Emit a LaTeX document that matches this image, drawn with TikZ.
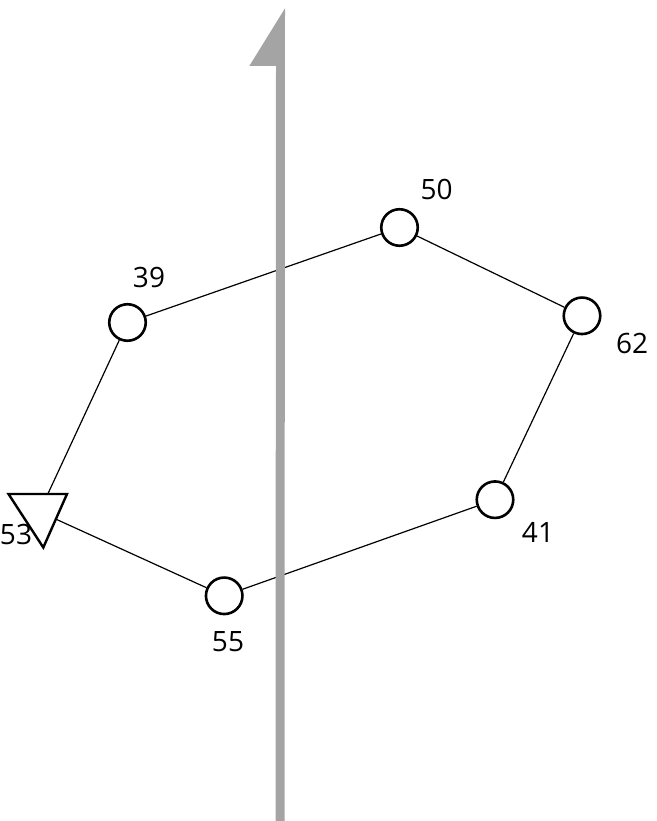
\documentclass[tikz,border=0pt]{standalone}
\usepackage{fontspec}
\setmainfont{Open Sans}
\definecolor{axisgray}{RGB}{164,164,164}
\begin{document}
\begin{tikzpicture}[x=1pt,y=-1pt,
  site/.style={circle,draw=black,line width=2.6pt,fill=white,minimum size=36.5pt,inner sep=0pt},
  lbl/.style={font=\fontsize{28}{32}\selectfont,inner sep=0pt},
  edge/.style={draw=black,line width=1.2pt}]
\useasboundingbox (0,0) rectangle (656,821);
% sites
\node[site] (c39) at (127.5,322.5) {};
\node[site] (c50) at (399.5,227.5) {};
\node[site] (c62) at (582,315.8) {};
\node[site] (c41) at (495,499.7) {};
\node[site] (c55) at (224.2,595.8) {};
\coordinate (t53) at (39.6,511.7);
% edges
\draw[edge] (c39) -- (c50);
\draw[edge] (c50) -- (c62);
\draw[edge] (c62) -- (c41);
\draw[edge] (c41) -- (c55);
\draw[edge] (c55) -- (t53);
\draw[edge] (t53) -- (c39);
% triangle site
\draw[line width=2.4pt,fill=white,line join=miter] (8.5,494) -- (67,494) -- (43.3,547.5) -- cycle;
% axis arrow
\fill[axisgray] (285,8.3) -- (284.5,821) -- (275.5,821) -- (276,66) -- (249.3,66) -- cycle;
% labels
\node[lbl] (l39) at (149,277) {39};
\node[lbl] (l50) at (436.7,189.7) {50};
\node[lbl] (l62) at (632,343.5) {62};
\node[lbl] (l41) at (538,532) {41};
\node[lbl] (l55) at (228,641.5) {55};
\node[lbl] (l53) at (16,534) {53};
\end{tikzpicture}
\end{document}
